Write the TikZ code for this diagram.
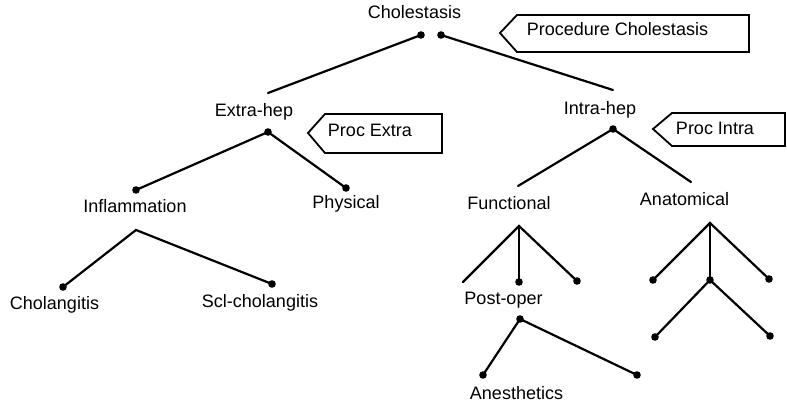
\documentclass[tikz,border=0pt]{standalone}
\usepackage{fontspec}
\setmainfont{Liberation Sans}
\begin{document}
\begin{tikzpicture}[x=1pt,y=-1pt,
  lbl/.style={anchor=base,inner sep=0pt,font=\fontsize{18}{20}\selectfont},
  branch/.style={line width=2.2pt,line cap=round},
  procbox/.style={line width=1.8pt,line join=miter},
  dotmark/.style={fill=black}]
\useasboundingbox (0,0) rectangle (787,406);
% text labels
\node[lbl] (chole) at (414.5,19) {Cholestasis};
\node[lbl] (extra) at (254,117) {Extra-hep};
\node[lbl] (intra) at (600,115) {Intra-hep};
\node[lbl] (inflam) at (135,213) {Inflammation};
\node[lbl] (phys) at (346,208) {Physical};
\node[lbl] (func) at (509,210) {Functional};
\node[lbl] (anat) at (684.5,206) {Anatomical};
\node[lbl] (cholang) at (54.5,309) {Cholangitis};
\node[lbl] (sclch) at (260,307) {Scl-cholangitis};
\node[lbl] (postop) at (503.5,304) {Post-oper};
\node[lbl] (anest) at (516.5,399) {Anesthetics};
% procedure boxes
\node[lbl] (pchole) at (617.5,36) {Procedure Cholestasis};
\node[lbl] (pextra) at (370,137) {Proc Extra};
\node[lbl] (pintra) at (715,135) {Proc Intra};
\draw[procbox] (500,33) -- (517,15) -- (749,15) -- (749,52) -- (517,52) -- cycle;
\draw[procbox] (308,133) -- (325,114) -- (442,114) -- (442,153) -- (325,153) -- cycle;
\draw[procbox] (653,129) -- (672,113) -- (785,113) -- (785,146) -- (672,146) -- cycle;
% tree points
\coordinate (rl) at (421,35);
\coordinate (rr) at (441,35);
\coordinate (ehtop) at (268,93);
\coordinate (ihtop) at (613,90);
\coordinate (ehd) at (268,132);
\coordinate (infd) at (136,190);
\coordinate (phyd) at (346,188);
\coordinate (infa) at (136,230);
\coordinate (chold) at (63,287);
\coordinate (scld) at (272,284);
\coordinate (ihd) at (613,129);
\coordinate (functop) at (518,186);
\coordinate (anattop) at (691,182);
\coordinate (funca) at (519,226);
\coordinate (fle) at (463,282);
\coordinate (fmd) at (519,282);
\coordinate (frd) at (577,281);
\coordinate (pod) at (520,319);
\coordinate (and) at (483,375);
\coordinate (pord) at (637,375);
\coordinate (anata) at (710,223);
\coordinate (amd) at (710,280);
\coordinate (ald) at (653,280);
\coordinate (ard) at (769,279);
\coordinate (amld) at (655,337);
\coordinate (amrd) at (770,336);
% connectors
\draw[branch] (rl) -- (ehtop);
\draw[branch] (rr) -- (ihtop);
\draw[branch] (infd) -- (ehd) -- (phyd);
\draw[branch] (chold) -- (infa) -- (scld);
\draw[branch] (functop) -- (ihd) -- (anattop);
\draw[branch] (fle) -- (funca) -- (frd);
\draw[branch] (funca) -- (fmd);
\draw[branch] (and) -- (pod) -- (pord);
\draw[branch] (ald) -- (anata) -- (ard);
\draw[branch] (anata) -- (amd);
\draw[branch] (amld) -- (amd) -- (amrd);
% dots
\foreach \p in {rl,rr,ehd,infd,phyd,chold,scld,ihd,fmd,frd,pod,and,pord,amd,ald,ard,amld,amrd}
  \fill[dotmark] (\p) circle (3.8pt);
\end{tikzpicture}
\end{document}
